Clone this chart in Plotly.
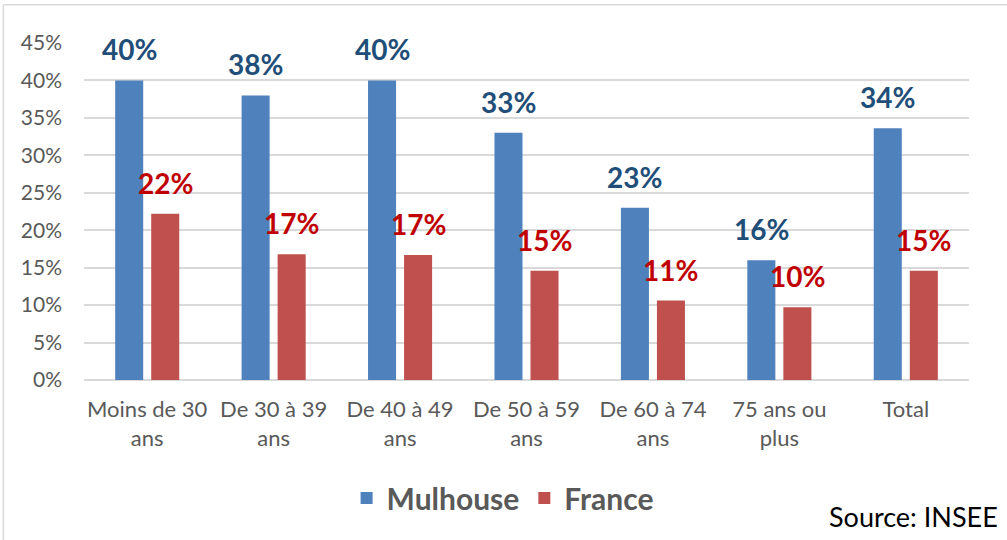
import plotly.graph_objects as go

# Age groups and share of each population (in %)
categories = ["Moins de 30<br>ans", "De 30 à 39<br>ans", "De 40 à 49<br>ans",
              "De 50 à 59<br>ans", "De 60 à 74<br>ans", "75 ans ou<br>plus", "Total"]
mulhouse = [40.0, 38.0, 40.0, 33.0, 23.0, 16.0, 33.6]
france = [22.2, 16.8, 16.7, 14.6, 10.6, 9.7, 14.6]
y_ticks = [0, 5, 10, 15, 20, 25, 30, 35, 40, 45]

BLUE = "#4F81BD"
RED = "#C0504D"
BLUE_TXT = "#1F4E79"
RED_TXT = "#C00000"
GREY = "#595959"
FONT = "Lato, 'Noto Sans', sans-serif"

fig = go.Figure()
fig.add_trace(go.Bar(name="Mulhouse", x=categories, y=mulhouse,
                     marker=dict(color=BLUE, line=dict(width=0))))
fig.add_trace(go.Bar(name="France", x=categories, y=france,
                     marker=dict(color=RED, line=dict(width=0))))

# value labels above each bar
annotations = []
for cat, v in zip(categories, mulhouse):
    annotations.append(dict(x=cat, y=v, text=f"{round(v)}%", showarrow=False,
                            xshift=-18, yshift=31, yanchor="middle",
                            font=dict(family=FONT, size=28, color=BLUE_TXT, weight="bold")))
for cat, v in zip(categories, france):
    annotations.append(dict(x=cat, y=v, text=f"{round(v)}%", showarrow=False,
                            xshift=18, yshift=31, yanchor="middle",
                            font=dict(family=FONT, size=28, color=RED_TXT, weight="bold")))

annotations.append(dict(xref="paper", yref="paper", x=1.035, y=-0.405,
                        xanchor="right", yanchor="middle", showarrow=False,
                        text="Source: INSEE",
                        font=dict(family=FONT, size=27, color="#000000")))

# outer frame of the chart area
shapes = [
    dict(type="line", xref="paper", yref="paper", x0=-0.0911, x1=1.05,
         y0=1.1134, y1=1.1134, line=dict(color="#D9D9D9", width=1.5)),
    dict(type="line", xref="paper", yref="paper", x0=-0.0911, x1=-0.0911,
         y0=1.1134, y1=-0.5, line=dict(color="#D9D9D9", width=1.5)),
]

fig.update_layout(
    width=1007, height=540,
    margin=dict(l=84, r=38, t=43, b=160),
    paper_bgcolor="white", plot_bgcolor="white",
    barmode="group", bargap=0.43, bargroupgap=0.222,
    font=dict(family=FONT, color=GREY),
    showlegend=True,
    legend=dict(orientation="h", x=0.473, y=-0.35, xanchor="center", yanchor="middle",
                font=dict(family=FONT, size=30, color=GREY, weight="bold"),
                itemwidth=30, tracegroupgap=0),
    annotations=annotations,
    shapes=shapes,
)
fig.update_xaxes(showgrid=False, showline=False, ticks="", ticklabelstandoff=14,
                 tickfont=dict(family=FONT, size=22, color=GREY))
fig.update_yaxes(range=[0, 45], tickvals=y_ticks, ticktext=[f"{t}%" for t in y_ticks],
                 showgrid=True, gridcolor="#D9D9D9", gridwidth=1.5,
                 zeroline=True, zerolinecolor="#D9D9D9", zerolinewidth=1.5,
                 showline=False, ticks="", ticklabelstandoff=21,
                 tickfont=dict(family=FONT, size=21, color=GREY))

fig.write_html("out.html")
